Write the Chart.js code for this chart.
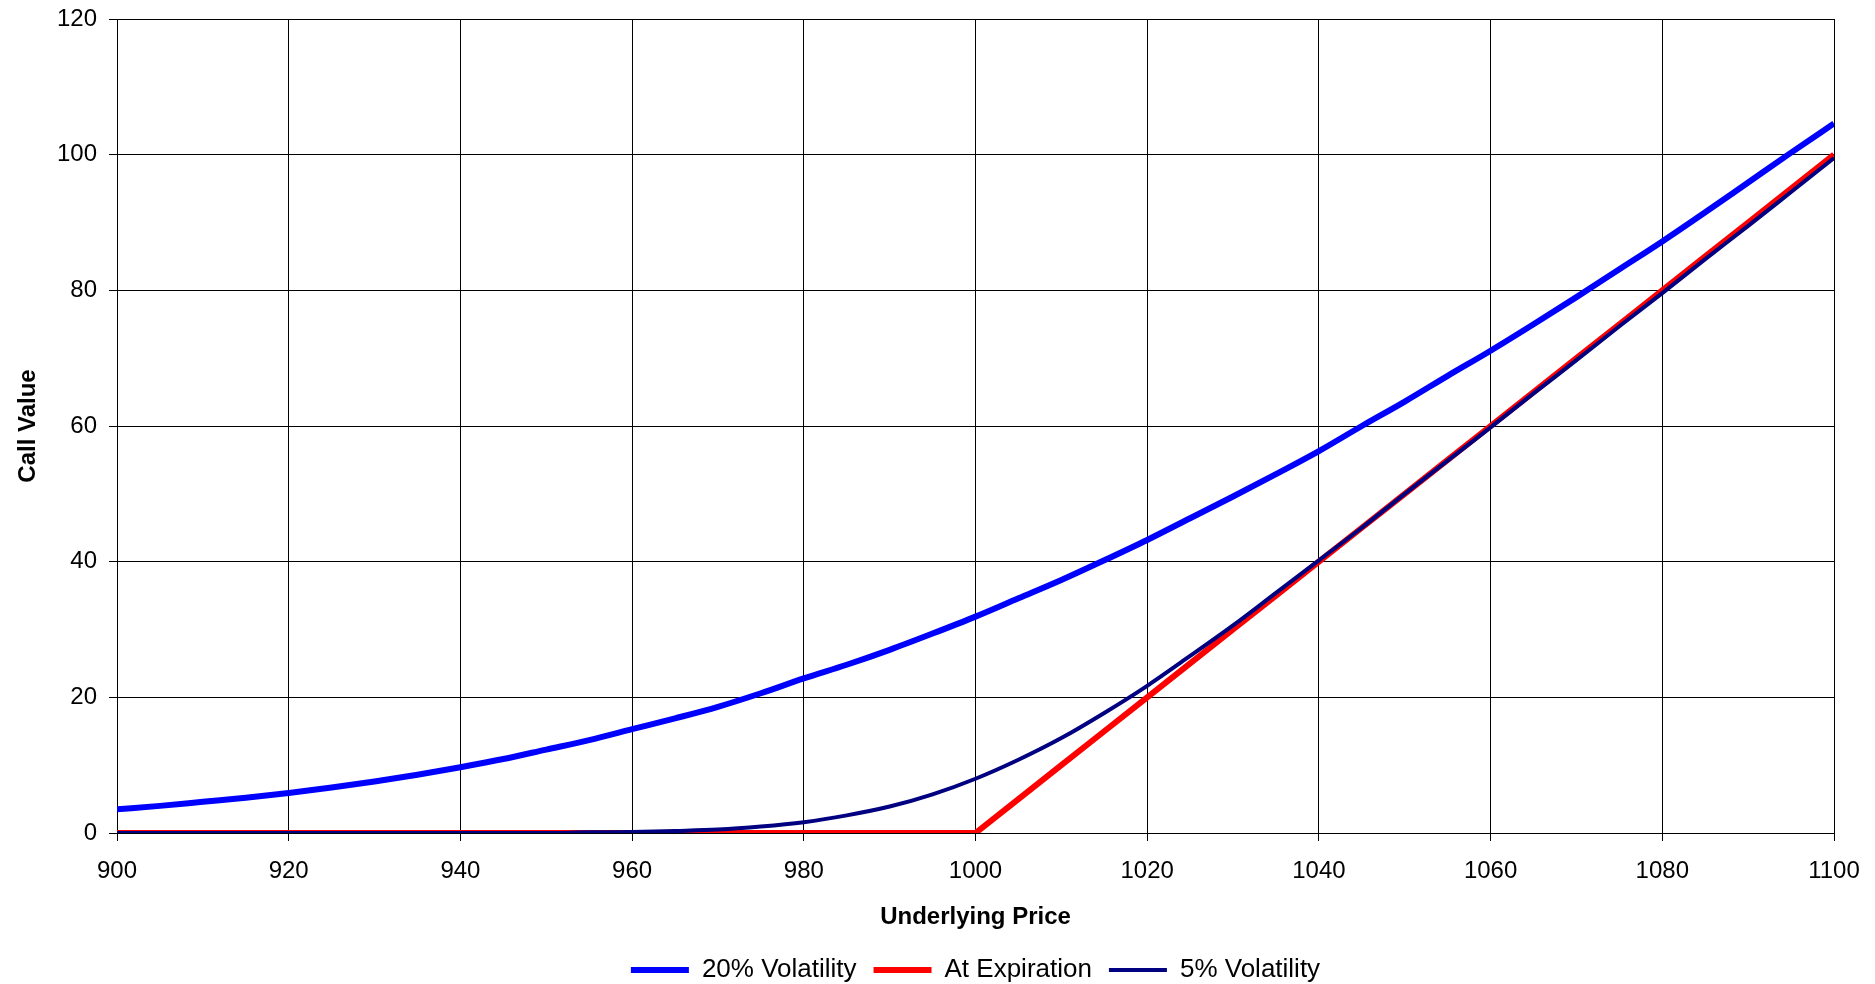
<!DOCTYPE html>
<html>
<head>
<meta charset="utf-8">
<title>Call Value vs Underlying Price</title>
<script src="https://cdn.jsdelivr.net/npm/chart.js@4"></script>
<style>
  html, body { margin: 0; padding: 0; background: #fff; }
</style>
</head>
<body>
<canvas id="callChart" width="1875" height="984"></canvas>
<script>
// underlying price, every 5 points
const prices = [900, 905, 910, 915, 920, 925, 930, 935, 940, 945,
                950, 955, 960, 965, 970, 975, 980, 985, 990, 995,
                1000, 1005, 1010, 1015, 1020, 1025, 1030, 1035, 1040, 1045,
                1050, 1055, 1060, 1065, 1070, 1075, 1080, 1085, 1090, 1095, 1100];

// call values
const vol20 = [3.5, 4.0, 4.6, 5.2, 5.9, 6.7, 7.6, 8.6, 9.7, 10.9,
               12.3, 13.7, 15.3, 16.9, 18.6, 20.6, 22.8, 24.8, 27.0, 29.4,
               31.9, 34.6, 37.3, 40.2, 43.2, 46.4, 49.6, 52.9, 56.3, 60.0,
               63.6, 67.4, 71.1, 75.0, 79.0, 83.1, 87.2, 91.5, 95.9, 100.3, 104.6];

const atExpiration = [0, 0, 0, 0, 0, 0, 0, 0, 0, 0,
                      0, 0, 0, 0, 0, 0, 0, 0, 0, 0,
                      0, 5, 10, 15, 20, 25, 30, 35, 40, 45,
                      50, 55, 60, 65, 70, 75, 80, 85, 90, 95, 100];

const vol5 = [0, 0, 0, 0, 0, 0, 0, 0, 0, 0,
              0, 0.1, 0.15, 0.3, 0.5, 0.95, 1.6, 2.6, 3.9, 5.7,
              8.0, 10.8, 14.0, 17.7, 21.7, 26.1, 30.6, 35.4, 40.2, 45.0,
              50.0, 54.9, 59.8, 64.8, 69.7, 74.7, 79.6, 84.6, 89.5, 94.5, 99.5];

const seriesNames = ['20% Volatility', 'At Expiration', '5% Volatility'];
const seriesColors = ['#0000FF', '#FF0000', '#000080'];

const FONT = "'Liberation Sans', Arial, Helvetica, sans-serif";

// pair prices with values for the linear x scale
const toPoints = vals => prices.map((p, i) => ({ x: p, y: vals[i] }));

// shrink the legend box so it sits where the original one does
const legendFit = {
  id: 'legendFit',
  afterInit(chart) {
    const lg = chart.legend;
    const fit = lg.fit;
    lg.fit = function () {
      fit.call(this);
      this.height = 44;
    };
  }
};

new Chart(document.getElementById('callChart'), {
  type: 'line',
  data: {
    datasets: [
      { label: seriesNames[0], data: toPoints(vol20), borderColor: seriesColors[0], backgroundColor: seriesColors[0],
        borderWidth: 6, order: 2, cubicInterpolationMode: 'monotone' },
      // payoff at expiry keeps its sharp corner at the strike
      { label: seriesNames[1], data: toPoints(atExpiration), borderColor: seriesColors[1], backgroundColor: seriesColors[1],
        borderWidth: 6, order: 1, tension: 0 },
      { label: seriesNames[2], data: toPoints(vol5), borderColor: seriesColors[2], backgroundColor: seriesColors[2],
        borderWidth: 4, order: 0, cubicInterpolationMode: 'monotone' }
    ]
  },
  options: {
    responsive: false,
    animation: false,
    layout: { padding: { top: 19, right: 41, bottom: 0, left: 0 } },
    elements: {
      point: { radius: 0, hoverRadius: 0 },
      line: { tension: 0, fill: false }
    },
    scales: {
      x: {
        type: 'linear',
        min: 900,
        max: 1100,
        ticks: {
          stepSize: 20, padding: 16, color: '#000',
          font: { family: FONT, size: 24 },
          callback: v => String(v)
        },
        grid: { color: '#000', lineWidth: 1, tickLength: 8 },
        border: { color: '#000', width: 1 },
        title: {
          display: true,
          text: 'Underlying Price',
          color: '#000',
          font: { family: FONT, size: 24, weight: 'bold' },
          padding: { top: 4, bottom: 8.5 }
        },
        afterFit: s => {
          s.height = 107;
          s.paddingLeft = 0;
          s.paddingRight = 0;
        }
      },
      y: {
        min: 0,
        max: 120,
        ticks: { stepSize: 20, padding: 12, color: '#000', font: { family: FONT, size: 24 } },
        grid: { color: '#000', lineWidth: 1, tickLength: 8 },
        border: { color: '#000', width: 1 },
        title: {
          display: true,
          text: 'Call Value',
          color: '#000',
          font: { family: FONT, size: 24, weight: 'bold' },
          padding: { top: 14, bottom: 4 }
        },
        afterFit: s => {
          s.width = 117;
          s.paddingTop = 0;
          s.paddingBottom = 0;
        }
      }
    },
    plugins: {
      legend: {
        position: 'bottom',
        fullSize: false,
        labels: {
          usePointStyle: true,
          pointStyle: 'line',
          pointStyleWidth: 58,
          padding: 17,
          color: '#000',
          font: { family: FONT, size: 26 },
          sort: (a, b) => a.datasetIndex - b.datasetIndex
        }
      },
      tooltip: { enabled: false }
    }
  },
  plugins: [legendFit]
});
</script>
</body>
</html>
